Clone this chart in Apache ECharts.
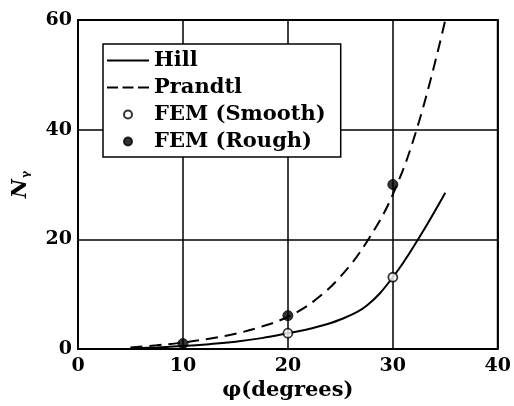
<!DOCTYPE html>
<html><head><meta charset="utf-8">
<script src="https://cdn.jsdelivr.net/npm/echarts@6/dist/echarts.min.js"></script>
<style>html,body{margin:0;padding:0;background:#fff}#c{width:514px;height:406px}</style>
</head><body><div id="c"></div>
<script>
// Data (x = phi in degrees, y = N_gamma)
const hillCurve = [[5,0.1],[7.5,0.3],[10,0.55],[12.5,0.9],[15,1.35],[17.5,2.0],[20,2.9],[22.5,3.9],[25,5.4],[27.5,7.9],[30,13.1],[32.5,20.3],[35,28.5]];
const prandtlCurve = [[5,0.3],[7.5,0.7],[10,1.2],[12.5,1.9],[15,2.8],[17.5,4.1],[20,5.9],[22.5,8.8],[25,13.2],[27.5,19.5],[30,28.2],[32.5,41.5],[35,60]];
const femSmooth = [[20,2.9],[30,13.1]];
const femRough = [[10,1.0],[20,6.1],[30,30.0]];
const xTicks = {min:0, max:40, interval:10};
const yTicks = {min:0, max:60, interval:20};
const names = ['Hill','Prandtl','FEM (Smooth)','FEM (Rough)'];

const font = 'DejaVu Serif';
const solidIcon = 'path://M0,0h42v2h-42z';
const dashIcon = 'path://M0,0h11v2h-11zM15.5,0h11v2h-11zM31,0h11v2h-11z';
const chart = echarts.init(document.getElementById('c'), null, {renderer:'canvas'});
chart.setOption({
  backgroundColor:'#fff',
  animation:false,
  grid:{left:78, right:16, top:20, bottom:51, show:true, borderColor:'#000', borderWidth:2},
  legend:{
    left:103, top:44, orient:'vertical',
    backgroundColor:'#fff', borderColor:'#000', borderWidth:1.5,
    padding:[6,15,5,4], itemGap:6, itemWidth:42, itemHeight:8,
    textStyle:{fontFamily:font, fontWeight:'bold', fontSize:21, color:'#000', lineHeight:21},
    data:[
      {name:names[0], icon:solidIcon, itemStyle:{color:'#000', borderWidth:0}},
      {name:names[1], icon:dashIcon, itemStyle:{color:'#000', borderWidth:0}},
      {name:names[2], icon:'circle'},
      {name:names[3], icon:'circle'}
    ]
  },
  xAxis:{
    type:'value', min:xTicks.min, max:xTicks.max, interval:xTicks.interval,
    name:'φ(degrees)', nameLocation:'middle', nameGap:27,
    nameTextStyle:{fontFamily:font, fontWeight:'bold', fontSize:21, color:'#000'},
    axisLine:{show:false}, axisTick:{show:false},
    axisLabel:{fontFamily:font, fontWeight:'bold', fontSize:19, color:'#000', margin:7},
    splitLine:{show:true, lineStyle:{color:'#000', width:1.5}}
  },
  yAxis:{
    type:'value', min:yTicks.min, max:yTicks.max, interval:yTicks.interval,
    name:'{n|N}{s|γ}', nameLocation:'middle', nameGap:46,
    nameTextStyle:{rich:{
      n:{fontFamily:font, fontWeight:'bold', fontStyle:'italic', fontSize:21, color:'#000'},
      s:{fontFamily:font, fontWeight:'bold', fontSize:11, color:'#000', padding:[12,0,0,1]}
    }},
    axisLine:{show:false}, axisTick:{show:false},
    axisLabel:{fontFamily:font, fontWeight:'bold', fontSize:19, color:'#000', margin:6},
    splitLine:{show:true, lineStyle:{color:'#000', width:1.5}}
  },
  series:[
    {name:names[0], type:'line', data:hillCurve, smooth:0.4, symbol:'none',
     lineStyle:{color:'#000', width:2}, itemStyle:{color:'#000'}},
    {name:names[1], type:'line', data:prandtlCurve, smooth:0.4, symbol:'none',
     lineStyle:{color:'#000', width:2, type:[12,7]}, itemStyle:{color:'#000'}},
    {name:names[2], type:'scatter', data:femSmooth, symbol:'circle', symbolSize:9, z:5,
     itemStyle:{color:'#fff', borderColor:'#000', borderWidth:1.8}},
    {name:names[3], type:'scatter', data:femRough, symbol:'circle', symbolSize:10, z:5,
     itemStyle:{color:'#000', borderColor:'#000', borderWidth:1}}
  ]
});
</script></body></html>
